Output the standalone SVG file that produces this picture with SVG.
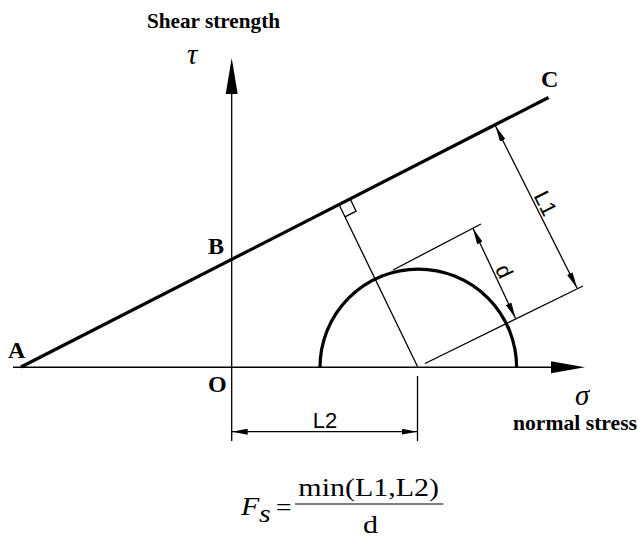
<svg xmlns="http://www.w3.org/2000/svg" width="638" height="537" viewBox="0 0 638 537">
  <style>
    .lbl { font-family: "Liberation Serif", "Times New Roman", serif; font-weight: bold; font-size: 24px; fill: #000; }
    .title { font-family: "Liberation Serif", "Times New Roman", serif; font-weight: bold; font-size: 22px; fill: #000; }
    .greek { font-family: "Liberation Serif", "Times New Roman", serif; font-style: italic; font-size: 29px; fill: #000; }
    .cad { font-family: "Liberation Sans", Arial, sans-serif; font-weight: normal; font-size: 22px; fill: #000; }
    .math { font-family: "Liberation Serif", "Times New Roman", serif; font-size: 25px; fill: #000; }
    .thin { stroke: #000; stroke-width: 1.3; fill: none; }
    .axis { stroke: #000; stroke-width: 1.5; fill: none; }
    .thick { stroke: #000; stroke-width: 3.2; fill: none; }
    .dim { stroke: #000; stroke-width: 1.3; fill: none; marker-start: url(#dimArrow); marker-end: url(#dimArrow); }
  </style>
  <defs>
    <marker id="dimArrow" viewBox="0 0 16 6" refX="16" refY="3" markerWidth="16" markerHeight="6" markerUnits="userSpaceOnUse" orient="auto-start-reverse">
      <path d="M0,0 L16,3 L0,6 z" fill="#000"/>
    </marker>
  </defs>
  <rect width="638" height="537" fill="#fff"/>

  <g id="tau-axis">
    <line class="thin" x1="231.7" y1="90" x2="231.7" y2="441"/>
    <polygon points="231.7,58 237.7,94 225.7,94" fill="#000"/>
    <text class="title" x="147" y="28" textLength="133" lengthAdjust="spacingAndGlyphs">Shear strength</text>
    <text class="greek" x="187" y="63.5">τ</text>
  </g>

  <g id="sigma-axis">
    <line class="axis" x1="13" y1="367.3" x2="553" y2="367.3"/>
    <polygon points="585,367.3 551,361.3 551,373.3" fill="#000"/>
    <text class="greek" x="575" y="405">σ</text>
    <text class="title" x="513" y="430" textLength="124" lengthAdjust="spacingAndGlyphs">normal stress</text>
  </g>

  <g id="point-A"><text class="lbl" x="8" y="358">A</text></g>
  <g id="point-B"><text class="lbl" x="208" y="254">B</text></g>
  <g id="point-O"><text class="lbl" x="208" y="391.5">O</text></g>
  <g id="point-C"><text class="lbl" x="541" y="86.5">C</text></g>

  <g id="failure-envelope">
    <line class="thick" x1="21" y1="367" x2="548.5" y2="97.5"/>
  </g>

  <g id="mohr-circle">
    <path class="thick" d="M320,367.3 A98.3,98.3 0 0 1 516.6,367.3"/>
  </g>

  <g id="connectors">
    <line class="thin" x1="339.5" y1="205.5" x2="417.5" y2="366.5"/>
    <polyline class="thin" points="350.6,199.8 356.1,211.1 345,216.8"/>
    <line class="thin" x1="393" y1="270" x2="481" y2="224"/>
    <line class="thin" x1="425" y1="363.5" x2="583" y2="286"/>
    <line class="thin" x1="417.5" y1="376" x2="417.5" y2="441"/>
    <line class="dim" x1="495.5" y1="126" x2="577" y2="288"/>
    <line class="dim" x1="473" y1="228.5" x2="515.5" y2="318.3"/>
    <line class="dim" x1="231.7" y1="431.7" x2="417.5" y2="431.7"/>
  </g>

  <g id="dim-labels">
    <text class="cad" text-anchor="middle" transform="translate(538.8,206.7) rotate(63.3)">L1</text>
    <text class="cad" text-anchor="middle" transform="translate(497.4,274.6) rotate(64.7)">d</text>
    <text class="cad" text-anchor="middle" x="325" y="428.3">L2</text>
  </g>

  <g id="formula">
    <text class="math" font-style="italic" transform="translate(241,515) scale(1.2,1)">F</text>
    <text class="math" font-style="italic" font-size="13" transform="translate(259,522) scale(1.2,1)">s</text>
    <text class="math" font-size="30" transform="translate(276,515.5) scale(1.1,1)">=</text>
    <line x1="295" y1="504" x2="443.3" y2="504" stroke="#000" stroke-width="1.2"/>
    <text class="math" transform="translate(298.3,496) scale(1.2,1)">min(L1,L2)</text>
    <text class="math" text-anchor="middle" transform="translate(370.5,533) scale(1.2,1)">d</text>
  </g>
</svg>
